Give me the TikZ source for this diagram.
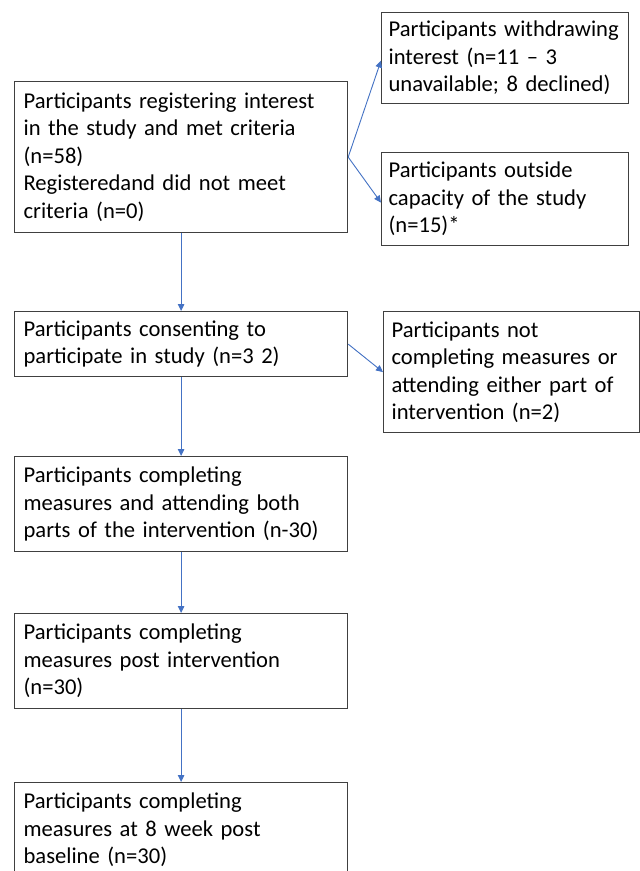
\documentclass[tikz,border=0pt]{standalone}
\usepackage{fontspec}
\setmainfont{Carlito}
\usetikzlibrary{arrows.meta}
\definecolor{arrowblue}{RGB}{68,114,196}
\definecolor{boxline}{RGB}{64,64,64}
\hyphenpenalty=10000
\exhyphenpenalty=10000
\begin{document}
\begin{tikzpicture}[x=1pt,y=-1pt,
  box/.style={draw=boxline, line width=1.2pt, anchor=north west, inner xsep=9pt, inner ysep=0pt,
    align=left, font=\fontsize{22.6}{27.5}\selectfont},
  arr/.style={draw=arrowblue, line width=0.9pt, -{Triangle[length=7pt,width=6.5pt]}}]
\useasboundingbox[fill=white] (0,0) rectangle (640,871);
\node[box, minimum width=333pt, minimum height=151pt, text width=315pt] (A) at (14,81)
  {Participants registering interest\\in the study and met criteria\\(n=58)\\Registeredand did not meet\\criteria (n=0)};
\node[box, inner xsep=7pt, minimum width=247pt, minimum height=91pt, text width=233pt] (B) at (381,12)
  {Participants withdrawing\\interest (n=11 – 3\\unavailable; 8 declined)};
\node[box, inner xsep=7pt, minimum width=247pt, minimum height=93pt, text width=233pt] (C) at (381,152)
  {Participants outside\\capacity of the study\\(n=15)*};
\node[box, minimum width=333pt, minimum height=65pt, text width=315pt] (D) at (14,311)
  {Participants consenting to\\participate in study (n=3 2)};
\node[box, inner xsep=8pt, minimum width=256pt, minimum height=121pt, text width=240pt] (E) at (383,311)
  {Participants not\\completing measures or\\attending either part of\\intervention (n=2)};
\node[box, minimum width=333pt, minimum height=95pt, text width=315pt] (F) at (14,456)
  {Participants completing\\measures and attending both\\parts of the intervention (n-30)};
\node[box, minimum width=333pt, minimum height=95pt, text width=315pt] (G) at (14,613)
  {Participants completing\\measures post intervention\\(n=30)};
\node[box, minimum width=333pt, minimum height=95pt, text width=315pt] (H) at (14,782)
  {Participants completing\\measures at 8 week post\\baseline (n=30)};
\draw[arr] (A.east) -- ([yshift=-2.5pt]B.west);
\draw[arr] (A.east) -- ([yshift=-3.5pt]C.west);
\draw[arr] (D.east) -- (E.west);
\draw[arr] (A.south) -- (D.north);
\draw[arr] (D.south) -- (F.north);
\draw[arr] (F.south) -- (G.north);
\draw[arr] (G.south) -- (H.north);
\end{tikzpicture}
\end{document}
